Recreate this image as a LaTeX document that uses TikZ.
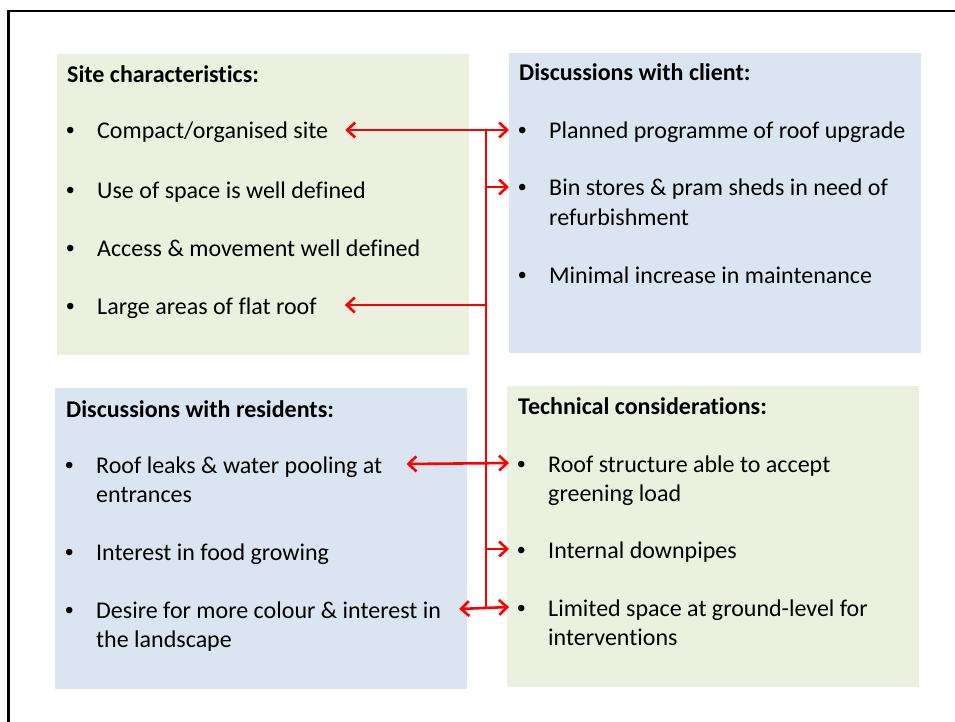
\documentclass[tikz,border=0pt]{standalone}
\usepackage{fontspec}
\setmainfont{Carlito}[Ligatures={NoCommon}]
\newfontfamily\bulfont{Liberation Sans}
\usepackage{xcolor}
\usetikzlibrary{arrows.meta,calc}
\definecolor{panelGreen}{HTML}{EBF1DE}
\definecolor{panelBlue}{HTML}{DBE5F1}
\definecolor{linkRed}{HTML}{FF0000}
\newcommand{\itembul}{\makebox[31pt][l]{\bulfont\textbullet}}
\newcommand{\itemgap}{\hspace*{31pt}}
\newcommand{\twoline}[2]{\begin{tabular}[t]{@{}l@{}}\itembul #1\\\itemgap #2\end{tabular}}

\begin{document}
\begin{tikzpicture}[
  x=1pt, y=-1pt,
  font=\fontsize{24}{29}\selectfont,
  panel/.style={draw=none, anchor=north west, inner sep=0pt},
  greenpanel/.style={panel, fill=panelGreen},
  bluepanel/.style={panel, fill=panelBlue},
  head/.style={anchor=base west, inner sep=0pt, font=\fontsize{24}{29}\selectfont\bfseries},
  item/.style={anchor=base west, inner sep=0pt},
  link/.style={draw=linkRed, line width=2.6pt},
  onelink/.style={link, -{Straight Barb[length=8pt, width=15pt]}},
  duallink/.style={link, {Straight Barb[length=8pt, width=15pt]}-{Straight Barb[length=8pt, width=15pt]}},
]
\useasboundingbox (0,0) rectangle (955,722);
\draw[line width=2.6pt] (8.5,730) -- (8.5,11) -- (960,11);

% four panels
\node[greenpanel, minimum width=412pt, minimum height=301pt] (site) at (57,54) {};
\node[bluepanel, minimum width=412pt, minimum height=300pt] (client) at (509,53) {};
\node[bluepanel, minimum width=412pt, minimum height=301pt] (res) at (55,388) {};
\node[greenpanel, minimum width=412pt, minimum height=301pt] (tech) at (507,386) {};

\node[head] (sitehead) at (67,83) {Site characteristics:};
\node[head] (clienthead) at (519,81) {Discussions with client:};
\node[head] (reshead) at (66,417) {Discussions with residents:};
\node[head] (techhead) at (518,414) {Technical considerations:};

\node[item] (s1) at (66,139) {\itembul Compact/organised site};
\node[item] (s2) at (66,198) {\itembul Use of space is well defined};
\node[item] (s3) at (66,256) {\itembul Access \& movement well defined};
\node[item] (s4) at (66,314) {\itembul Large areas of flat roof};

\node[item] (c1) at (518,139) {\itembul Planned programme of roof upgrade};
\node[item] (c2) at (518,196) {\twoline{Bin stores \& pram sheds in need of}{refurbishment}};
\node[item] (c3) at (518,283) {\itembul Minimal increase in maintenance};

\node[item] (r1) at (65,473) {\twoline{Roof leaks \& water pooling at}{entrances}};
\node[item] (r2) at (65,560) {\itembul Interest in food growing};
\node[item] (r3) at (65,618) {\twoline{Desire for more colour \& interest in}{the landscape}};

\node[item] (t1) at (517,472) {\twoline{Roof structure able to accept}{greening load}};
\node[item] (t2) at (517,558) {\itembul Internal downpipes};
\node[item] (t3) at (517,616) {\twoline{Limited space at ground-level for}{interventions}};

% red connectors, all hanging off one vertical spine
\coordinate (spine) at (486,0);
\draw[link] ($(spine |- s1.base)+(0,-9)$) -- ($(spine |- r3.base)+(0,-9)$);
\draw[duallink] ($(s1.base east)+(17,-9)$) -- ($(c1.base west)+(-9,-9)$);
\draw[onelink] ($(spine |- c2.base)+(0,-9)$) -- ($(c2.base west)+(-9,-9)$);
\draw[onelink] ($(spine |- s4.base)+(0,-9)$) -- ($(s4.base east)+(28,-9)$);
\draw[duallink] ($(r1.base east)+(24,-9)$) -- ($(t1.base west)+(-8,-9)$);
\draw[onelink] ($(spine |- t2.base)+(0,-9)$) -- ($(t2.base west)+(-8,-9)$);
\draw[duallink] ($(r3.base east)+(18,-9)$) -- ($(t3.base west)+(-8,-9)$);
\end{tikzpicture}
\end{document}
